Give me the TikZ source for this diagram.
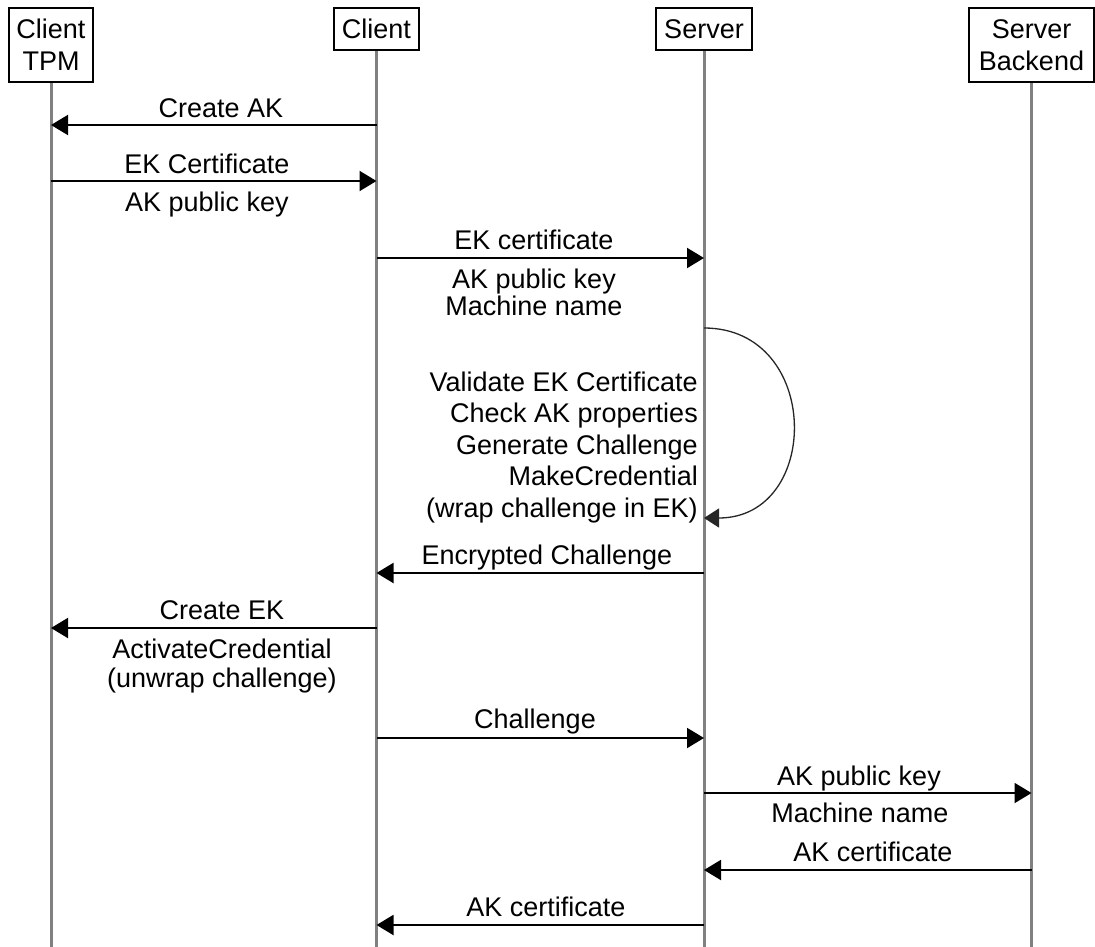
\documentclass[tikz,border=0pt]{standalone}
\usepackage{fontspec}
\setmainfont{Liberation Sans}
\usetikzlibrary{arrows.meta}
\begin{document}
\begin{tikzpicture}[x=1pt,y=-1pt,
  every node/.style={inner sep=0pt, font=\fontsize{27}{32}\selectfont},
  actor/.style={draw, line width=1.6pt, align=center, fill=white},
  life/.style={draw=black!50, line width=3pt},
  msg/.style={line width=2pt, -{Triangle[length=17pt,width=20pt]}},
  selfmsg/.style={line width=1.3pt, draw=black!85, -{Triangle[length=15pt,width=19pt]}},
  lbl/.style={anchor=base, align=center, font=\fontsize{27}{27}\selectfont},
  selflbl/.style={anchor=base east, align=right, font=\fontsize{27}{31.5}\selectfont},
]
\useasboundingbox (0,0) rectangle (1095,947);

% actors
\node[actor, minimum width=84pt, minimum height=74pt] (tpm) at (51,45) {Client\\TPM};
\node[actor, minimum width=85pt, minimum height=42pt] (cl) at (376.5,29) {Client};
\node[actor, minimum width=96pt, minimum height=42pt] (sv) at (704,29) {Server};
\node[actor, minimum width=125pt, minimum height=74pt] (be) at (1031.5,45) {Server\\Backend};

% lifeline ends
\coordinate (tpmE) at (tpm |- 0,947);
\coordinate (clE) at (cl |- 0,947);
\coordinate (svE) at (sv |- 0,947);
\coordinate (beE) at (be |- 0,947);

\draw[life] (tpm.south) -- (tpmE);
\draw[life] (cl.south) -- (clE);
\draw[life] (sv.south) -- (svE);
\draw[life] (be.south) -- (beE);

% messages
\draw[msg] (cl |- 0,125) -- (tpm |- 0,125);
\node[lbl] (m1) at (221,118) {Create AK};

\draw[msg] (tpm |- 0,181) -- (cl |- 0,181);
\node[lbl] (m2a) at (207,173) {EK Certificate};
\node[lbl] (m2b) at (207,211) {AK public key};

\draw[msg] (cl |- 0,258) -- (sv |- 0,258);
\node[lbl] (m3a) at (534,249) {EK certificate};
\node[lbl] (m3b) at (534,315) {AK public key\\Machine name};

\draw[selfmsg] (sv |- 0,328) .. controls (822,328) and (822,518) .. (sv |- 0,518);
\node[selflbl] (m4) at (698,517) {Validate EK Certificate\\Check AK properties\\Generate Challenge\\MakeCredential\\(wrap challenge in EK)};

\draw[msg] (sv |- 0,573) -- (cl |- 0,573);
\node[lbl] (m5) at (547,564) {Encrypted Challenge};

\draw[msg] (cl |- 0,628) -- (tpm |- 0,628);
\node[lbl] (m6a) at (222,619) {Create EK};
\node[lbl] (m6b) at (222,687) {ActivateCredential\\[2pt](unwrap challenge)};

\draw[msg] (cl |- 0,738) -- (sv |- 0,738);
\node[lbl] (m7) at (535,728) {Challenge};

\draw[msg] (sv |- 0,793) -- (be |- 0,793);
\node[lbl] (m8a) at (859,785) {AK public key};
\node[lbl] (m8b) at (860,822) {Machine name};

\draw[msg] (be |- 0,870) -- (sv |- 0,870);
\node[lbl] (m9) at (873,861) {AK certificate};

\draw[msg] (sv |- 0,925) -- (cl |- 0,925);
\node[lbl] (m10) at (546,916) {AK certificate};
\end{tikzpicture}
\end{document}
